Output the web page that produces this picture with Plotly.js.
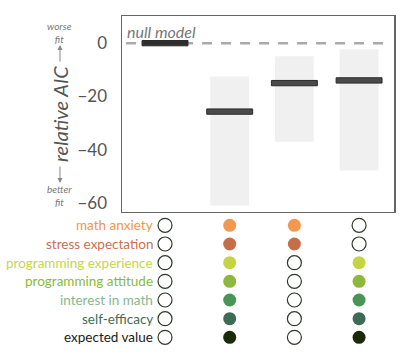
<!DOCTYPE html>
<html>
<head>
<meta charset="utf-8">
<script src="https://cdn.plot.ly/plotly-3.0.1.min.js"></script>
<style>html,body{margin:0;padding:0;background:#fff;}#chart{width:414px;height:360px;}</style>
</head>
<body>
<div id="chart"></div>
<script>
// ---- data ----
var models = [0, 1, 2, 3];
var medianAIC = [0, -25.7, -15.0, -14.0];
var rangeLow = [null, -61.0, -37.0, -47.8];
var rangeHigh = [null, -12.5, -4.9, -2.3];

var predictors = ["math anxiety", "stress expectation", "programming experience",
  "programming attitude", "interest in math", "self-efficacy", "expected value"];
var dotColors = ["#f2994f", "#c56e47", "#c5d443", "#8cb93d", "#4a9455", "#3d6b55", "#1c2a0c"];
var labelColors = ["#f0964a", "#c7714f", "#c6d646", "#8cb93d", "#86b98e", "#3f6e58", "#1a1a1a"];
// inclusion[model][predictor]
var inclusion = [
  [0, 0, 0, 0, 0, 0, 0],
  [1, 1, 1, 1, 1, 1, 1],
  [1, 1, 0, 0, 0, 0, 0],
  [0, 0, 1, 1, 1, 1, 1]
];

var FONT = "Lato, 'Open Sans', sans-serif";
var traces = [];

// grey ranges
var rx = [], ry = [], rb = [];
models.forEach(function (m, i) {
  if (rangeLow[i] !== null) { rx.push(m); rb.push(rangeLow[i]); ry.push(rangeHigh[i] - rangeLow[i]); }
});
traces.push({type: "bar", x: rx, y: ry, base: rb, width: 0.6,
  marker: {color: "#f0f0f0", line: {width: 0}}, hoverinfo: "skip", xaxis: "x", yaxis: "y"});

// median bars
var thick = 2.0;
traces.push({type: "bar", x: models, y: models.map(function () { return thick; }),
  base: medianAIC.map(function (v) { return v - thick / 2; }), width: 0.71,
  marker: {color: ["#2e2e2e", "#4a4a4a", "#4a4a4a", "#4a4a4a"], line: {color: "#2a2a2a", width: 1}},
  hoverinfo: "skip", xaxis: "x", yaxis: "y"});

// matrix dots
var ox = [], oy = [], fx = [], fy = [], fc = [];
models.forEach(function (m, i) {
  predictors.forEach(function (p, j) {
    if (inclusion[i][j]) { fx.push(m); fy.push(j); fc.push(dotColors[j]); }
    else { ox.push(m); oy.push(j); }
  });
});
traces.push({type: "scatter", mode: "markers", x: ox, y: oy, xaxis: "x2", yaxis: "y2",
  marker: {symbol: "circle", size: 14, color: "#ffffff", line: {color: "#2f3a2a", width: 1.2}}, hoverinfo: "skip"});
traces.push({type: "scatter", mode: "markers", x: fx, y: fy, xaxis: "x2", yaxis: "y2",
  marker: {symbol: "circle", size: 13, color: fc, line: {width: 0}}, hoverinfo: "skip"});

var annotations = [];
predictors.forEach(function (p, j) {
  annotations.push({text: p, x: 0, y: j, xref: "x2", yref: "y2", xanchor: "right", yanchor: "middle",
    xshift: -10, showarrow: false, font: {family: FONT, size: 13.5, color: labelColors[j]}});
});
annotations.push({text: "<i>null model</i>", x: 0.01, xref: "paper", y: 0, yref: "y", xanchor: "left",
  yanchor: "bottom", yshift: 0, showarrow: false, font: {family: FONT, size: 16, color: "#777"}});
annotations.push({text: "<i>relative AIC</i>", xref: "paper", yref: "paper", x: -0.228, y: 0.704,
  xanchor: "center", yanchor: "middle", textangle: -90, showarrow: false,
  font: {family: FONT, size: 20, color: "#555"}});
annotations.push({text: "<i>worse<br>fit</i>", xref: "paper", yref: "paper", x: -0.228, y: 1.0,
  xanchor: "center", yanchor: "top", yshift: -2, showarrow: false, align: "center",
  font: {family: FONT, size: 10, color: "#777"}});
annotations.push({text: "<i>better<br>fit</i>", xref: "paper", yref: "paper", x: -0.228, y: 0.4079,
  xanchor: "center", yanchor: "bottom", yshift: 2, showarrow: false, align: "center",
  font: {family: FONT, size: 10, color: "#777"}});
// arrows
annotations.push({text: "", xref: "paper", yref: "paper", x: -0.228, y: 0.9124,
  axref: "pixel", ayref: "pixel", ax: 0, ay: 18, showarrow: true, arrowhead: 2, arrowsize: 1,
  arrowwidth: 1, arrowcolor: "#888"});
annotations.push({text: "", xref: "paper", yref: "paper", x: -0.228, y: 0.4955,
  axref: "pixel", ayref: "pixel", ax: 0, ay: -18, showarrow: true, arrowhead: 2, arrowsize: 1,
  arrowwidth: 1, arrowcolor: "#888"});

var layout = {
  width: 414, height: 360,
  margin: {l: 122, r: 20, t: 16, b: 13},
  paper_bgcolor: "#fff", plot_bgcolor: "#fff",
  showlegend: false, barmode: "overlay",
  font: {family: FONT, color: "#555"},
  xaxis: {domain: [0, 1], range: [-0.665, 3.54], showgrid: false, zeroline: false,
    showticklabels: false, ticks: "", showline: true, mirror: true, linecolor: "#666", linewidth: 1.5, anchor: "y"},
  yaxis: {domain: [0.4079, 1], range: [-63.4, 10.2], showgrid: false, zeroline: false,
    tickvals: [0, -20, -40, -60], ticktext: ["0", "\u221220", "\u221240", "\u221260"],
    ticks: "outside", ticklen: 10, tickcolor: "rgba(0,0,0,0)",
    tickfont: {family: FONT, size: 17, color: "#555"},
    showline: true, mirror: true, linecolor: "#666", linewidth: 1.5, anchor: "x"},
  xaxis2: {domain: [0, 1], matches: "x", anchor: "y2", visible: false, showgrid: false, zeroline: false},
  yaxis2: {domain: [0.001, 0.3958], range: [6.5, -0.5], anchor: "x2", visible: false, showgrid: false, zeroline: false},
  shapes: [{type: "line", xref: "paper", yref: "y", x0: 0.015, x1: 0.967, y0: 0, y1: 0, layer: "below",
    line: {color: "#aaaaaa", width: 2.5, dash: "10px,9px"}}],
  annotations: annotations
};

Plotly.newPlot("chart", traces, layout, {displayModeBar: false, staticPlot: true});
</script>
</body>
</html>
